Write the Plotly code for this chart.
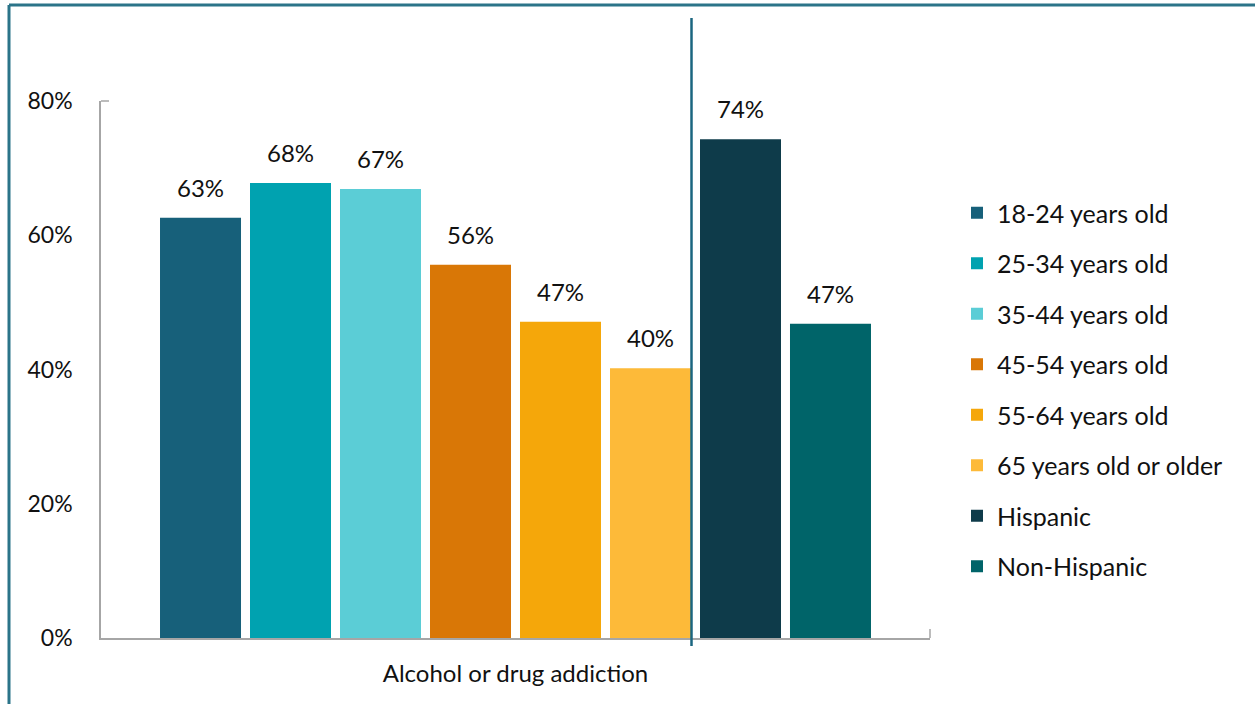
import plotly.graph_objects as go

# Share of respondents, by age group and ethnicity
category = ["Alcohol or drug addiction"]
groups = [
    "18-24 years old",
    "25-34 years old",
    "35-44 years old",
    "45-54 years old",
    "55-64 years old",
    "65 years old or older",
    "Hispanic",
    "Non-Hispanic",
]
values = [62.6, 67.8, 66.9, 55.6, 47.1, 40.2, 74.3, 46.8]
colors = ["#17607a", "#00a2b0", "#5bcdd6", "#d97706", "#f5a70a", "#fdba39", "#0e3b4a", "#006469"]

y_ticks = [0, 20, 40, 60, 80]
y_tick_text = ["0%", "20%", "40%", "60%", "80%"]

FONT = "Lato, 'Open Sans', sans-serif"
TEXT_COLOR = "#111111"

W, H = 1255, 704
left_px, right_px, top_px, bottom_px = 101, 930, 101, 638
BARGAP = 0.1315
BARGROUPGAP = 0.1

fig = go.Figure()
for i, (name, val, col) in enumerate(zip(groups, values, colors)):
    fig.add_trace(go.Bar(
        x=category,
        y=[val],
        name=name,
        marker=dict(color=col, line=dict(width=0)),
        legendgroup=f"g{i}",
    ))

# value labels above each bar, offset to the bar's slot within the group
plot_w = right_px - left_px
slot_px = plot_w * (1 - BARGAP) / len(values)
annotations = []
for i, val in enumerate(values):
    annotations.append(dict(
        x=category[0], y=val, xref="x", yref="y",
        xshift=(i - (len(values) - 1) / 2) * slot_px,
        yshift=14,
        text=f"{val:.0f}%",
        showarrow=False,
        yanchor="bottom",
        font=dict(size=24, family=FONT, color=TEXT_COLOR),
    ))

frame_color = "#2b7489"


def px_x(px):
    return (px - left_px) / (right_px - left_px)


def px_y(py):
    return (bottom_px - py) / (bottom_px - top_px)


shapes = [
    # outer frame: top and left edges
    dict(type="line", xref="paper", yref="paper", x0=px_x(9), x1=px_x(W + 5), y0=px_y(5), y1=px_y(5),
         line=dict(color=frame_color, width=3)),
    dict(type="line", xref="paper", yref="paper", x0=px_x(9), x1=px_x(9), y0=px_y(5), y1=px_y(H + 5),
         line=dict(color=frame_color, width=3)),
    # divider between age groups and ethnicity
    dict(type="line", xref="paper", yref="paper", x0=px_x(691.5), x1=px_x(691.5), y0=px_y(18), y1=px_y(646),
         line=dict(color="#1b6680", width=2.5)),
    # axis end ticks
    dict(type="line", xref="paper", yref="paper", x0=0, x1=px_x(109), y0=1, y1=1,
         line=dict(color="#a6a6a6", width=1.5)),
    dict(type="line", xref="paper", yref="paper", x0=1, x1=1, y0=0, y1=px_y(629),
         line=dict(color="#a6a6a6", width=1.5)),
]

fig.update_layout(
    width=W,
    height=H,
    margin=dict(l=left_px, r=W - right_px, t=top_px, b=H - bottom_px),
    paper_bgcolor="white",
    plot_bgcolor="white",
    barmode="group",
    bargap=BARGAP,
    bargroupgap=BARGROUPGAP,
    font=dict(family=FONT, color=TEXT_COLOR),
    showlegend=True,
    legend=dict(
        x=px_x(957), xanchor="left",
        y=px_y(190), yanchor="top",
        font=dict(size=25, family=FONT, color=TEXT_COLOR),
        tracegroupgap=15,
        itemwidth=30,
        bgcolor="rgba(0,0,0,0)",
    ),
    xaxis=dict(
        showline=True, linecolor="#a6a6a6", linewidth=1.5,
        ticks="", ticklabelstandoff=13,
        tickfont=dict(size=24, family=FONT, color=TEXT_COLOR),
        showgrid=False, zeroline=False,
    ),
    yaxis=dict(
        range=[0, 80],
        tickvals=y_ticks, ticktext=y_tick_text,
        showline=True, linecolor="#a6a6a6", linewidth=1.5,
        ticks="", ticklabelstandoff=22,
        tickfont=dict(size=23, family=FONT, color=TEXT_COLOR),
        showgrid=False, zeroline=False,
    ),
    shapes=shapes,
    annotations=annotations,
)

fig.write_html("out.html")
